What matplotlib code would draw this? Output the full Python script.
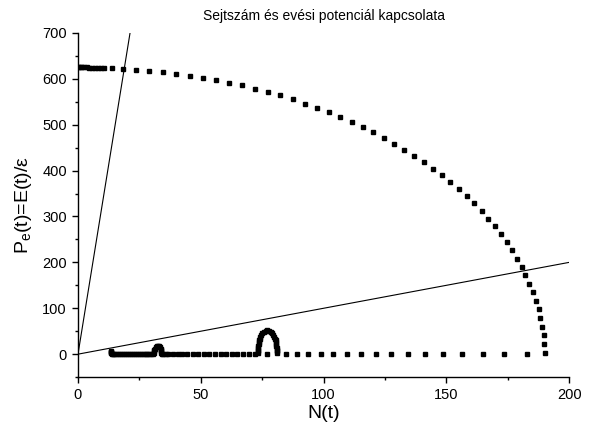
import matplotlib
matplotlib.use("Agg")
import matplotlib.pyplot as plt
from matplotlib.ticker import MultipleLocator

plt.rcParams['font.family'] = ['Liberation Sans', 'DejaVu Sans']
plt.rcParams['mathtext.fontset'] = 'custom'
plt.rcParams['mathtext.rm'] = 'Liberation Sans'
plt.rcParams['mathtext.default'] = 'regular'

# evesi potencial gorbe (felso iv)
curve_n = [0.0, 0.5, 1.1, 1.8, 2.6, 3.5, 4.5, 5.6, 6.8, 8.1, 9.4,
           10.7, 14.0, 18.2, 23.5, 29.0, 34.6, 40.0, 45.5, 50.9, 56.2,
           61.5, 66.9, 72.1, 77.3, 82.4, 87.5, 92.5, 97.4, 102.1, 106.7,
           111.5, 116.0, 120.3, 124.6, 128.8, 132.9, 136.9, 140.9, 144.5, 148.1,
           151.6, 155.1, 158.3, 161.4, 164.3, 167.0, 169.6, 172.2, 174.5, 176.8,
           178.8, 180.6, 182.2, 183.8, 185.3, 186.4, 187.5, 188.3, 189.1, 189.7,
           189.9, 190.2]
curve_p = [625.0, 625.0, 625.0, 624.9, 624.8, 624.7, 624.5, 624.3, 624.1, 623.8, 623.5,
           623.6, 622.8, 621.8, 620.0, 617.0, 614.1, 610.3, 607.0, 602.1, 597.3,
           591.5, 585.5, 578.2, 571.3, 564.1, 555.4, 545.8, 537.1, 527.1, 516.8,
           505.9, 495.0, 483.4, 471.0, 458.6, 445.5, 431.8, 418.0, 404.1, 390.3,
           374.4, 359.1, 343.9, 328.6, 311.8, 295.0, 278.5, 261.0, 243.6, 226.8,
           207.8, 189.7, 171.6, 153.3, 134.5, 116.2, 97.5, 78.5, 59.5, 40.8,
           21.8, 2.2]

# also sor (a nulla kozeleben)
base_n = [13.6, 13.5, 13.5, 13.6, 13.8, 14.2, 14.7, 15.5, 16.3, 17.1, 17.9,
          18.7, 19.5, 20.3, 21.1, 21.9, 22.7, 23.5, 24.3, 25.1, 25.9,
          26.7, 27.5, 28.3, 29.1, 29.9, 30.7, 31.0, 31.0, 31.1, 31.3,
          31.6, 32.0, 32.5, 33.0, 33.4, 33.7, 33.9, 34.0, 34.0, 34.1,
          34.8, 35.8, 36.8, 38.8, 40.6, 42.4, 44.5, 46.7, 49.0, 51.3,
          53.5, 55.8, 58.1, 60.3, 62.6, 64.9, 67.3, 69.7, 72.1, 73.3,
          73.3, 73.3, 73.4, 73.4, 73.5, 73.6, 73.8, 74.0, 74.3, 74.6,
          75.1, 75.7, 76.4, 77.1, 77.8, 78.5, 79.1, 79.6, 80.0, 80.3,
          80.5, 80.7, 80.8, 80.8, 80.9, 80.9, 80.9, 80.9, 76.8, 84.7,
          89.1, 93.8, 98.9, 104.0, 109.4, 115.3, 121.4, 127.5, 134.3, 141.3,
          148.8, 156.5, 164.8, 173.5, 182.8]
base_p = [7.0, 5.5, 4.0, 2.5, 1.0, 0.2, 0.0, 0.0, 0.0, 0.0, 0.0,
          0.0, 0.0, 0.0, 0.0, 0.0, 0.0, 0.0, 0.0, 0.0, 0.0,
          0.0, 0.0, 0.0, 0.0, 0.0, 0.5, 3.0, 6.0, 9.0, 12.0,
          15.0, 17.0, 18.0, 17.0, 15.0, 12.0, 9.0, 6.0, 3.0, 0.5,
          0.0, 0.0, 0.0, 0.0, 0.0, 0.0, 0.0, 0.0, 0.0, 0.0,
          0.0, 0.0, 0.0, 0.0, 0.0, 0.0, 0.0, 0.0, 0.0, 2.0,
          6.0, 10.0, 14.0, 18.0, 22.0, 26.0, 30.0, 34.0, 38.0, 42.0,
          46.0, 49.0, 51.0, 52.0, 51.0, 49.0, 46.0, 42.0, 38.0, 34.0,
          30.0, 26.0, 22.0, 18.0, 14.0, 10.0, 6.0, 2.0, 0.0, 0.0,
          0.0, 0.0, 0.0, 0.0, 0.0, 0.0, 0.0, 0.0, 0.0, 0.0,
          0.0, 0.0, 0.0, 0.0, 0.0]

# egyenesek az origobol
steep_n = [0, 21.2]
steep_p = [0, 700]
flat_n = [0, 200]
flat_p = [0, 200]

fig = plt.figure(figsize=(5.89, 4.38), dpi=100)
ax = fig.add_axes([0.1324, 0.139, 0.834, 0.786])

ax.plot(curve_n, curve_p, linestyle='none', marker='s', markersize=3.3, color='black')
ax.plot(base_n, base_p, linestyle='none', marker='s', markersize=3.2, color='black')
ax.plot(steep_n, steep_p, color='black', linewidth=0.8)
ax.plot(flat_n, flat_p, color='black', linewidth=0.8)

ax.set_xlim(0, 200)
ax.set_ylim(-50, 700)
ax.xaxis.set_major_locator(MultipleLocator(50))
ax.xaxis.set_minor_locator(MultipleLocator(25))
ax.yaxis.set_major_locator(MultipleLocator(100))
ax.yaxis.set_minor_locator(MultipleLocator(50))

ax.spines['top'].set_visible(False)
ax.spines['right'].set_visible(False)
ax.spines['left'].set_linewidth(1.0)
ax.spines['bottom'].set_linewidth(1.0)
ax.tick_params(which='major', direction='out', length=4, width=1.0, labelsize=10.5, pad=4)
ax.tick_params(which='minor', direction='out', length=2.5, width=1.0)

ax.set_title("Sejtszám és evési potenciál kapcsolata", fontsize=10, pad=9)
ax.set_xlabel("N(t)", fontsize=14, labelpad=2)
ax.set_ylabel(r"P$_{e}$(t)=E(t)/ε", fontsize=14, labelpad=6)

fig.savefig("out.png", dpi=100)
